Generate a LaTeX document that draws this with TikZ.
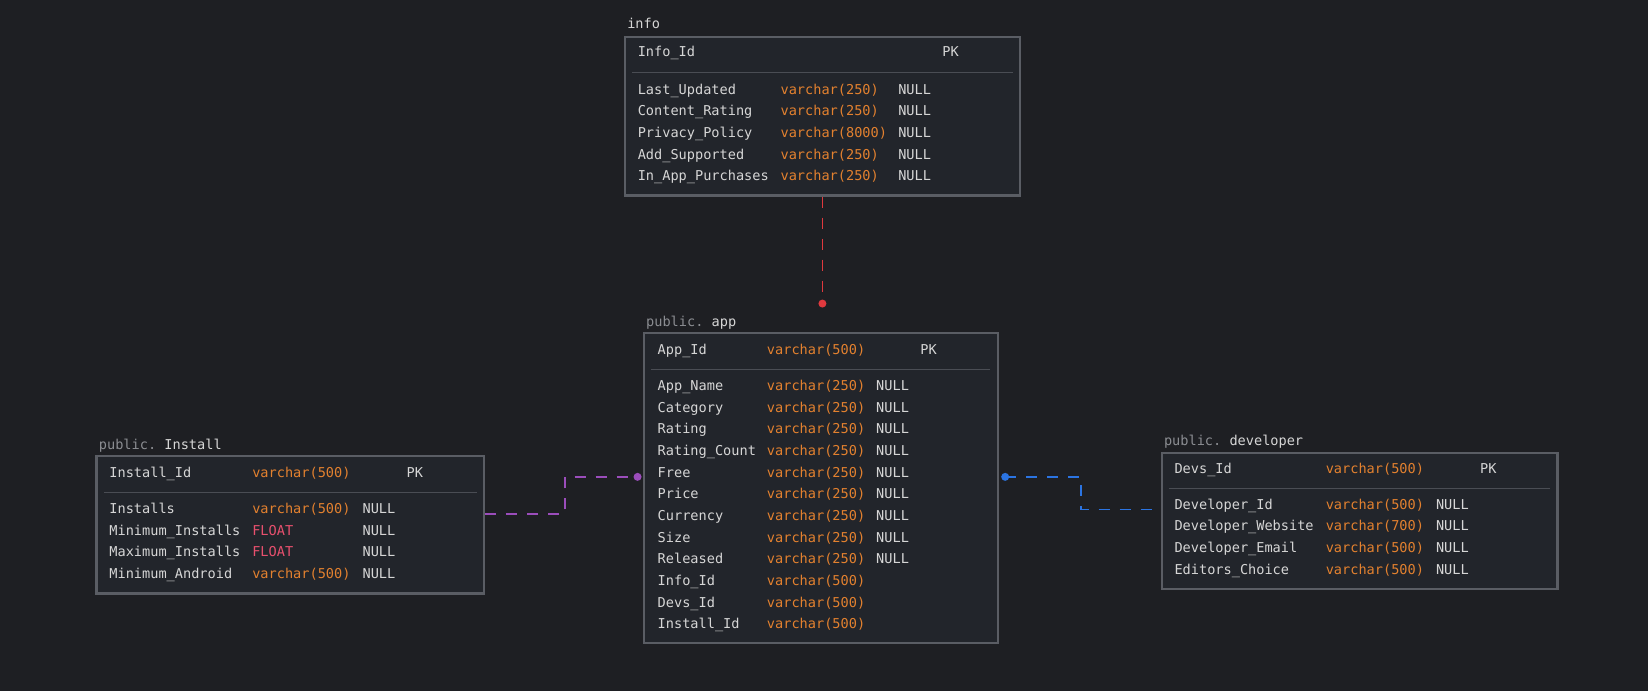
\documentclass[tikz,border=0pt]{standalone}
\usepackage{fontspec}
\setmonofont{DejaVu Sans Mono}
\usetikzlibrary{fit}

\definecolor{bgcol}{HTML}{1E1F23}
\definecolor{tabfill}{HTML}{22252B}
\definecolor{tabline}{HTML}{5A5D64}
\definecolor{sepcol}{HTML}{4A4D54}
\definecolor{txtcol}{HTML}{D6D6D6}
\definecolor{typecol}{HTML}{E3812F}
\definecolor{floatcol}{HTML}{E8506E}
\definecolor{schemacol}{HTML}{8B8D92}
\definecolor{relred}{HTML}{E0393E}
\definecolor{relpurple}{HTML}{9B4DBB}
\definecolor{relblue}{HTML}{2B74E2}

\tikzset{
    col/.style = {anchor = base west, inner sep = 0pt, yshift = -5pt,
        font = \ttfamily\fontsize{13.6}{16}\selectfont, text = txtcol},
    typ/.style = {col, text = typecol},
    tabbox/.style = {draw = tabline, line width = 2.4pt, fill = tabfill, inner sep = 0pt},
    sepline/.style = {draw = sepcol, line width = 1.4pt},
    rel/.style = {line width = 1.8pt, dash pattern = on 11pt off 10pt},
}

\begin{document}
\begin{tikzpicture}[x = 1.0504pt, y = -1.0504pt]
    \fill[bgcol] (0,0) rectangle (1569,657.8);
    \useasboundingbox (0,0) rectangle (1569,657.8);

    % table boxes
    \node[tabbox, fit = {(595,35) (971,186)}] (info) {};
    \node[tabbox, fit = {(613,317) (950,612)}] (app) {};
    \node[tabbox, fit = {(92,434) (461,565)}] (install) {};
    \node[tabbox, fit = {(1106,431) (1483,561)}] (developer) {};

    % relations
    \coordinate (redDot) at (783,289);
    \coordinate (purpleDot) at (607,454);
    \coordinate (blueDot) at (957,454);
    \draw[rel, relred] (redDot |- info.south) -- (redDot);
    \draw[rel, relpurple] (install.east |- 0,489) -| (538,454) -- (purpleDot);
    \draw[rel, relblue] (blueDot) -| (1029,485) -- (developer.west |- 0,485);
    \fill[relred] (redDot) circle[radius = 4pt];
    \fill[relpurple] (purpleDot) circle[radius = 4pt];
    \fill[relblue] (blueDot) circle[radius = 4pt];

    % info
    \node[col] (infoTitle) at (597,22) {info};
    \node[col] (infoKey) at (607,49) {Info\_Id};
    \node[col] (infoPK) at (897,49) {PK};
    \draw[sepline] (602,69) -- (964,69);
    \foreach \n/\t [count = \i from 0] in {Last\_Updated/varchar(250), Content\_Rating/varchar(250),
            Privacy\_Policy/varchar(8000), Add\_Supported/varchar(250), In\_App\_Purchases/varchar(250)} {
        \node[col] (infoN\i) at (607,{85+20.6*\i}) {\n};
        \node[typ] (infoT\i) at (743,{85+20.6*\i}) {\t};
        \node[col] (infoU\i) at (855,{85+20.6*\i}) {NULL};
    }

    % public.app
    \node[col, text = schemacol] (appTitle) at (615,306) {public. \textcolor{txtcol}{app}};
    \node[col] (appKey) at (626,333) {App\_Id};
    \node[typ] (appKeyT) at (730,333) {varchar(500)};
    \node[col] (appPK) at (876,333) {PK};
    \draw[sepline] (620,352) -- (943,352);
    \foreach \n/\t/\u [count = \i from 0] in {App\_Name/varchar(250)/NULL, Category/varchar(250)/NULL,
            Rating/varchar(250)/NULL, Rating\_Count/varchar(250)/NULL, Free/varchar(250)/NULL,
            Price/varchar(250)/NULL, Currency/varchar(250)/NULL, Size/varchar(250)/NULL,
            Released/varchar(250)/NULL, Info\_Id/varchar(500)/{}, Devs\_Id/varchar(500)/{},
            Install\_Id/varchar(500)/{}} {
        \node[col] (appN\i) at (626,{367+20.64*\i}) {\n};
        \node[typ] (appT\i) at (730,{367+20.64*\i}) {\t};
        \node[col] (appU\i) at (834,{367+20.64*\i}) {\u};
    }

    % public.Install
    \node[col, text = schemacol] (installTitle) at (94,423) {public. \textcolor{txtcol}{Install}};
    \node[col] (installKey) at (104,450) {Install\_Id};
    \node[typ] (installKeyT) at (240,450) {varchar(500)};
    \node[col] (installPK) at (387,450) {PK};
    \draw[sepline] (99,469) -- (454,469);
    \foreach \n/\t/\c [count = \i from 0] in {Installs/varchar(500)/typecol,
            Minimum\_Installs/FLOAT/floatcol, Maximum\_Installs/FLOAT/floatcol,
            Minimum\_Android/varchar(500)/typecol} {
        \node[col] (installN\i) at (104,{484+20.7*\i}) {\n};
        \node[col, text = \c] (installT\i) at (240,{484+20.7*\i}) {\t};
        \node[col] (installU\i) at (345,{484+20.7*\i}) {NULL};
    }

    % public.developer
    \node[col, text = schemacol] (devTitle) at (1108,419) {public. \textcolor{txtcol}{developer}};
    \node[col] (devKey) at (1118,446) {Devs\_Id};
    \node[typ] (devKeyT) at (1262,446) {varchar(500)};
    \node[col] (devPK) at (1409,446) {PK};
    \draw[sepline] (1113,465) -- (1476,465);
    \foreach \n/\t [count = \i from 0] in {Developer\_Id/varchar(500), Developer\_Website/varchar(700),
            Developer\_Email/varchar(500), Editors\_Choice/varchar(500)} {
        \node[col] (devN\i) at (1118,{480+20.7*\i}) {\n};
        \node[typ] (devT\i) at (1262,{480+20.7*\i}) {\t};
        \node[col] (devU\i) at (1367,{480+20.7*\i}) {NULL};
    }
\end{tikzpicture}
\end{document}
